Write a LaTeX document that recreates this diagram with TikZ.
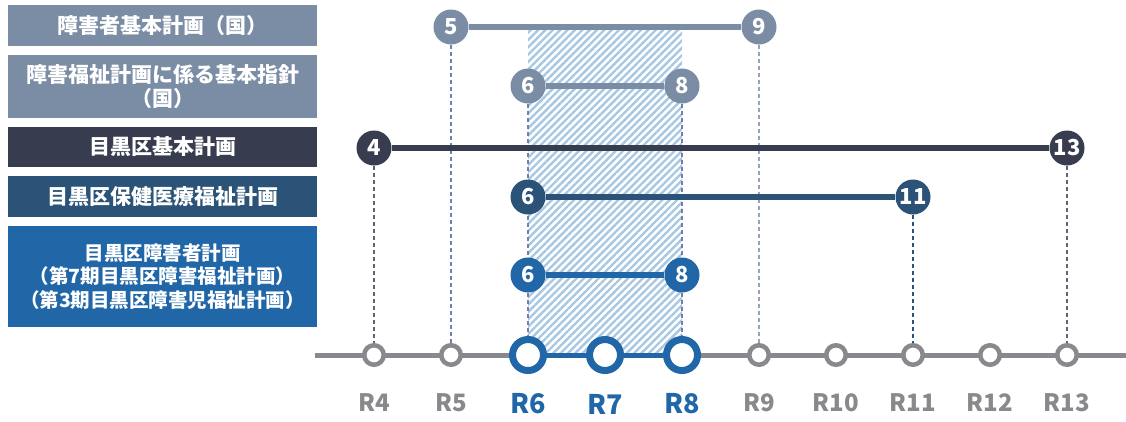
\documentclass[tikz,border=0pt]{standalone}
\usepackage{fontspec}
\setmainfont{Noto Sans CJK JP}
\usetikzlibrary{patterns.meta,backgrounds}
\definecolor{kuni}{HTML}{7B8DA5}
\definecolor{kihon}{HTML}{373D4F}
\definecolor{hoken}{HTML}{2B5377}
\definecolor{shogai}{HTML}{2167A8}
\definecolor{axisgray}{HTML}{88888D}
\definecolor{hatchblue}{HTML}{A8C8E2}
\begin{document}
\begin{tikzpicture}[x=1pt,y=-1pt,
    planbox/.style={fill=#1,text=white,minimum width=309pt,inner sep=0pt,
      align=center,font=\bfseries\fontsize{21}{24}\selectfont},
    yearnode/.style={circle,fill=#1,text=white,minimum size=35pt,inner sep=0pt,
      font=\bfseries\fontsize{22}{22}\selectfont},
    spanline/.style={line width=6.5pt,draw=#1},
    guide/.style={draw=#1,line width=1.2pt,dash pattern=on 4pt off 3pt},
    tickmark/.style={circle,draw=axisgray,fill=white,line width=4.5pt,
      minimum size=19.5pt,inner sep=0pt},
    nowmark/.style={circle,draw=shogai,fill=white,line width=7pt,
      minimum size=31pt,inner sep=0pt},
    ticklabel/.style={text=axisgray,font=\bfseries\fontsize{24}{24}\selectfont},
    nowlabel/.style={text=shogai,font=\bfseries\fontsize{27}{27}\selectfont}]
  \useasboundingbox (0,0) rectangle (1126,421);

  % plans on the left
  \node[planbox=kuni,minimum height=41pt] (plan-A) at (162.5,25.5)
    {障害者基本計画（国）};
  \node[planbox=kuni,minimum height=63pt] (plan-B) at (162.5,86.5)
    {障害福祉計画に係る基本指針\\（国）};
  \node[planbox=kihon,minimum height=40pt] (plan-C) at (162.5,147)
    {目黒区基本計画};
  \node[planbox=hoken,minimum height=41pt] (plan-D) at (162.5,196.5)
    {目黒区保健医療福祉計画};
  \node[planbox=shogai,minimum height=101pt,
    font=\bfseries\fontsize{19.5}{23.5}\selectfont] (plan-E) at (162.5,276.5)
    {目黒区障害者計画\\（第7期目黒区障害福祉計画）\\（第3期目黒区障害児福祉計画）};

  % time axis
  \coordinate (axis-l) at (315,355);
  \coordinate (axis-r) at (1126,355);
  \foreach \i [evaluate=\i as \x using 66+77*\i] in {4,5,9,10,11,12,13} {
    \node[tickmark] (node-R\i) at (\x,355) {};
    \node[ticklabel] (lab-R\i) at (\x,403) {R\i};
  }
  \foreach \i [evaluate=\i as \x using 66+77*\i] in {6,7,8} {
    \node[nowmark] (node-R\i) at (\x,355) {};
    \node[nowlabel] (lab-R\i) at (\x,404) {R\i};
  }

  % periods
  \node[yearnode=kuni] (year-A1) at (451,27) {5};
  \node[yearnode=kuni] (year-A2) at (759,27) {9};
  \node[yearnode=kuni] (year-B1) at (528,86) {6};
  \node[yearnode=kuni] (year-B2) at (682,86) {8};
  \node[yearnode=kihon] (year-C1) at (374,148) {4};
  \node[yearnode=kihon] (year-C2) at (1067,148) {13};
  \node[yearnode=hoken] (year-D1) at (528,197) {6};
  \node[yearnode=hoken] (year-D2) at (913,197) {11};
  \node[yearnode=shogai] (year-E1) at (528,275) {6};
  \node[yearnode=shogai] (year-E2) at (682,275) {8};

  \draw[spanline=kuni] (year-A1) -- (year-A2);
  \draw[spanline=kuni] (year-B1) -- (year-B2);
  \draw[spanline=kihon] (year-C1) -- (year-C2);
  \draw[spanline=hoken] (year-D1) -- (year-D2);
  \draw[spanline=shogai] (year-E1) -- (year-E2);

  \begin{scope}[on background layer]
    \fill[pattern={Lines[angle=45,distance=5.2pt,line width=2.4pt]},
      pattern color=hatchblue] (528,30) rectangle (682,355);
    \draw[guide=kihon!80] (year-C1) -- (node-R4);
    \draw[guide=kuni!90!blue] (year-A1) -- (node-R5);
    \draw[guide=kuni!90!blue] (year-B1) -- (node-R6);
    \draw[guide=kuni!90!blue] (year-B2) -- (node-R8);
    \draw[guide=kuni!80!white] (year-A2) -- (node-R9);
    \draw[guide=hoken] (year-D2) -- (node-R11);
    \draw[guide=kihon!80] (year-C2) -- (node-R13);
    \draw[line width=5pt,axisgray] (axis-l) -- (axis-r);
    \draw[line width=5pt,shogai] (node-R6) -- (node-R8);
  \end{scope}
\end{tikzpicture}
\end{document}
